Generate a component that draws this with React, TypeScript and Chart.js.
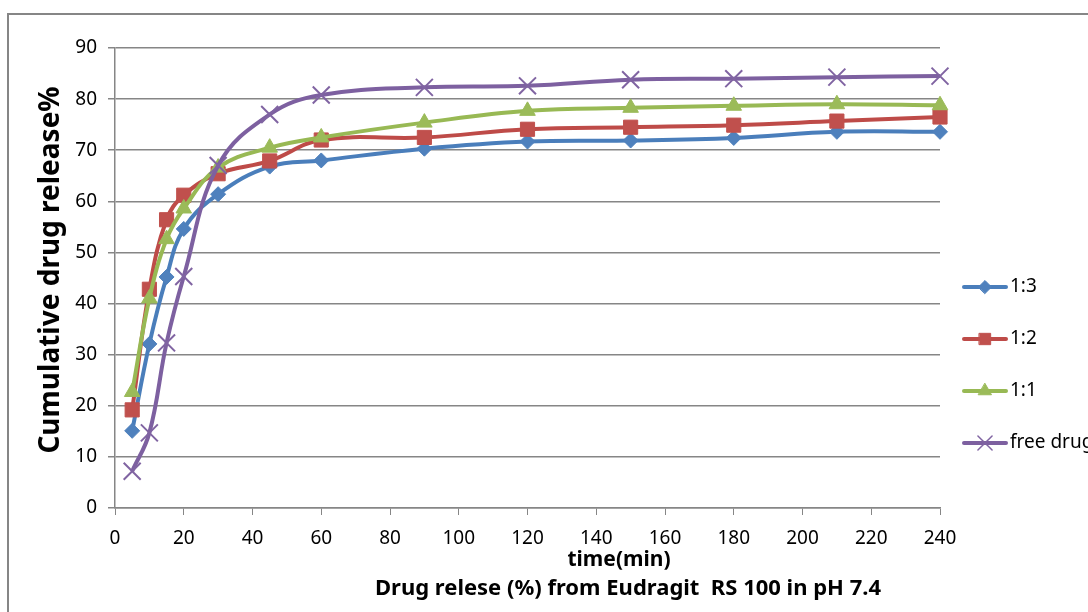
import React, { useEffect, useRef } from 'react';
import { Chart, registerables } from 'chart.js';
import { drawPoint } from 'chart.js/helpers';

Chart.register(...registerables);

const timeMin = [5, 10, 15, 20, 30, 45, 60, 90, 120, 150, 180, 210, 240];
const ratio13 = [15.1, 32.1, 45.2, 54.6, 61.4, 66.8, 68.0, 70.3, 71.7, 71.9, 72.4, 73.6, 73.6];
const ratio12 = [19.2, 42.8, 56.4, 61.2, 65.4, 67.9, 72.0, 72.5, 74.1, 74.5, 74.9, 75.7, 76.5];
const ratio11 = [22.7, 41.0, 52.6, 58.6, 66.6, 70.5, 72.5, 75.4, 77.7, 78.3, 78.7, 79.0, 78.8];
const freeDrug = [7.2, 14.7, 32.3, 45.3, 67.0, 77.0, 80.8, 82.3, 82.6, 83.8, 84.0, 84.3, 84.5];

const seriesNames = ['1:3', '1:2', '1:1', 'free drug'];
const seriesColors = ['#4A7EBB', '#BE4B48', '#98B954', '#7D60A0'];
const markerColors = ['#4F81BD', '#C0504D', '#9BBB59', '#8064A2'];
const pointStyles = ['rectRot', 'rect', 'triangle', 'crossRot'];
const pointRadii = [7.5, 10, 9, 12];
const legendRadii = [6.5, 8, 7.5, 10];

const xMin = 0, xMax = 240, xStep = 20;
const yMin = 0, yMax = 90, yStep = 10;

const yTitle = 'Cumulative drug release%';
const xTitle = 'time(min)';
const bottomTitle = 'Drug relese (%) from Eudragit  RS 100 in pH 7.4';

const FONT = '"Noto Sans", "Open Sans", sans-serif';
const GRID = '#868686';

const decor = {
  id: 'decor',
  beforeDraw(chart: any) {
    const ctx = chart.ctx;
    ctx.save();
    ctx.fillStyle = '#ffffff';
    ctx.fillRect(0, 0, chart.width, chart.height);
    ctx.strokeStyle = GRID;
    ctx.lineWidth = 2;
    ctx.strokeRect(8, 14, chart.width + 40, chart.height + 40);
    ctx.restore();
  },
  afterDraw(chart: any) {
    const ctx = chart.ctx;
    ctx.save();
    ctx.fillStyle = '#000';
    ctx.textAlign = 'center';
    ctx.textBaseline = 'middle';
    // y title
    ctx.save();
    ctx.translate(51, 270);
    ctx.rotate(-Math.PI / 2);
    ctx.font = `bold 28px ${FONT}`;
    ctx.fillText(yTitle, 0, 0);
    ctx.restore();
    // x titles
    ctx.font = `bold 21px ${FONT}`;
    ctx.fillText(xTitle, 619, 560);
    ctx.font = `bold 22px ${FONT}`;
    ctx.fillText(bottomTitle, 628, 589);
    // legend
    for (let i = 0; i < seriesNames.length; i++) {
      const y = 287 + i * 52;
      ctx.strokeStyle = seriesColors[i];
      ctx.lineWidth = 4;
      ctx.lineCap = 'round';
      ctx.beginPath();
      ctx.moveTo(964, y);
      ctx.lineTo(1006, y);
      ctx.stroke();
      ctx.fillStyle = markerColors[i];
      ctx.strokeStyle = markerColors[i];
      ctx.lineWidth = pointStyles[i] === 'crossRot' ? 1.5 : 1;
      drawPoint(ctx, { pointStyle: pointStyles[i], radius: legendRadii[i], rotation: 0, borderWidth: ctx.lineWidth } as any, 985, y);
      ctx.fillStyle = '#000';
      ctx.textAlign = 'left';
      ctx.font = `19px ${FONT}`;
      ctx.fillText(seriesNames[i], 1010, y);
    }
    ctx.restore();
  },
};

export default function App() {
  const ref = useRef<HTMLCanvasElement | null>(null);
  useEffect(() => {
    if (!ref.current) return;
    const all = [ratio13, ratio12, ratio11, freeDrug];
    const datasets = all.map((vals, i) => ({
      label: seriesNames[i],
      data: vals.map((v, j) => ({ x: timeMin[j], y: v })),
      borderColor: seriesColors[i],
      backgroundColor: markerColors[i],
      pointBackgroundColor: markerColors[i],
      pointBorderColor: markerColors[i],
      pointStyle: pointStyles[i],
      pointRadius: pointRadii[i],
      pointBorderWidth: pointStyles[i] === 'crossRot' ? 2 : 1,
      borderWidth: 4,
      tension: 0.4,
      fill: false,
      clip: false as any,
      order: 4 - i,
    }));
    const chart = new Chart(ref.current, {
      type: 'line',
      data: { datasets },
      options: {
        animation: false,
        responsive: false,
        devicePixelRatio: 1,
        layout: { padding: { top: 48, left: 0, right: 148, bottom: 0 } },
        plugins: { legend: { display: false }, tooltip: { enabled: false } },
        scales: {
          x: {
            type: 'linear',
            min: xMin,
            max: xMax,
            afterFit(scale: any) { scale.height = 104; },
            ticks: { stepSize: xStep, color: '#000', font: { family: FONT, size: 19 }, padding: 12, maxRotation: 0 },
            grid: { drawOnChartArea: false, drawTicks: true, tickLength: 7, color: GRID, lineWidth: 1 },
            border: { display: true, color: GRID, width: 1.5 },
          },
          y: {
            type: 'linear',
            min: yMin,
            max: yMax,
            afterFit(scale: any) { scale.width = 115; },
            ticks: { stepSize: yStep, color: '#000', font: { family: FONT, size: 19 }, padding: 11 },
            grid: { drawOnChartArea: true, drawTicks: true, tickLength: 7, color: GRID, lineWidth: 1.5 },
            border: { display: true, color: GRID, width: 1.5 },
          },
        },
      },
      plugins: [decor],
    });
    return () => chart.destroy();
  }, []);
  return (
    <canvas
      ref={ref}
      width={1088}
      height={612}
      style={{ position: 'fixed', left: 0, top: 0, display: 'block', width: 1088, height: 612 }}
    />
  );
}
